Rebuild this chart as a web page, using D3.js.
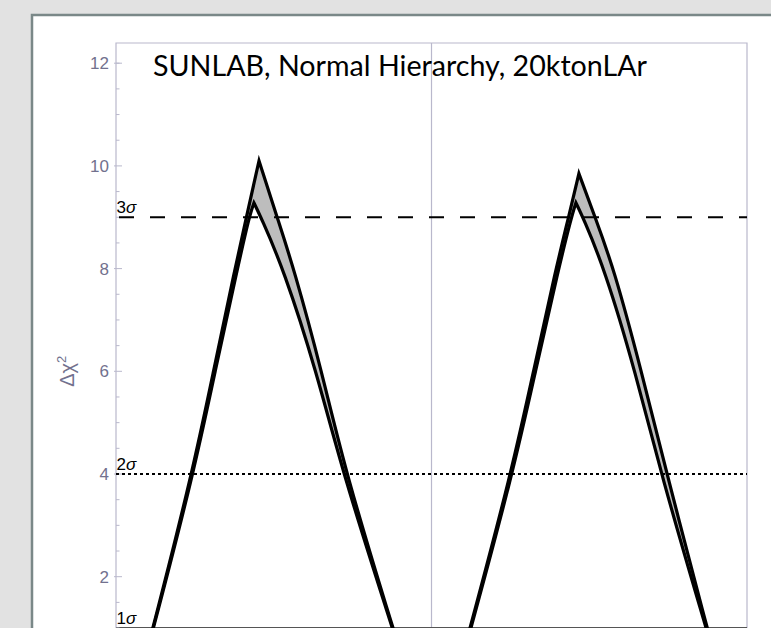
<!DOCTYPE html>
<html>

<head>
  <script src="https://d3js.org/d3.v7.min.js"></script>
  <style>
    body {
      margin: 0;
      background: #e2e2e2;
    }

    .curve {
      fill: none;
      stroke: black;
      stroke-width: 3.2;
      stroke-linejoin: miter;
      stroke-miterlimit: 12;
    }
  </style>
</head>

<body>
  <script>
    const width = 771;
    const height = 628;

    // delta_CP (deg), delta chi^2 -- two bands, outer and inner curve each
    const leftOuter = [[-162.9, 0.5], [-158.9, 1], [-136.6, 4], [-124.4, 6], [-112.1, 8], [-105.6, 9], [-98.4, 10.1],
      [-88.1, 9], [-78.5, 8], [-62.6, 6], [-48.8, 4], [-22.0, 1], [-17.4, 0.5]];
    const leftInner = [[-162.6, 0.5], [-158.6, 1], [-135.8, 4], [-123.5, 6], [-110.7, 8], [-104.1, 9], [-101.3, 9.28],
      [-97.3, 9], [-84.5, 8], [-65.6, 6], [-50.5, 4], [-22.3, 1], [-17.7, 0.5]];
    const rightOuter = [[18.0, 0.5], [22.0, 1], [45.4, 4], [58.2, 6], [71.0, 8], [78.2, 9], [84.1, 9.85],
      [93.3, 9], [104.1, 8], [119.8, 6], [134.3, 4], [157.2, 1], [161.5, 0.5]];
    const rightInner = [[18.5, 0.5], [22.5, 1], [46.3, 4], [59.3, 6], [72.5, 8], [79.8, 9], [82.4, 9.28],
      [86.4, 9], [98.7, 8], [116.3, 6], [130.9, 4], [156.6, 1], [161.0, 0.5]];

    const sigmaLevels = [1, 4, 9];
    const sigmaNames = ["1", "2", "3"];
    const yMajorTicks = [2, 4, 6, 8, 10, 12];
    const yMinorTicks = [1, 1.5, 2.5, 3, 3.5, 4.5, 5, 5.5, 6.5, 7, 7.5, 8.5, 9, 9.5, 10.5, 11, 11.5, 12];
    const title = "SUNLAB, Normal Hierarchy, 20ktonLAr";

    const svg = d3.select("body")
      .append("svg")
      .attr("width", width)
      .attr("height", height)
      .style("display", "block");

    // window background + white panel
    svg.append("rect").attr("width", width).attr("height", height).attr("fill", "#e2e2e2");
    svg.append("rect").attr("x", 32).attr("y", 15).attr("width", width).attr("height", height).attr("fill", "white");
    svg.append("path")
      .attr("d", `M32,${height} V15 H${width}`)
      .attr("fill", "none")
      .attr("stroke", "#7a8888")
      .attr("stroke-width", 2.5);

    const plotLeft = 116, plotRight = 747, plotTop = 43;

    const x = d3.scaleLinear().domain([-180, 180]).range([plotLeft, plotRight]);
    const y = d3.scaleLinear().domain([4, 12]).range([474, 63.2]);

    // each peak = two smooth branches joined at a sharp tip
    const branch = d3.line().x(d => x(d[0])).y(d => y(d[1])).curve(d3.curveBasis);

    function peakPath(pts) {
      let k = d3.maxIndex(pts, d => d[1]);
      let a = branch(pts.slice(0, k + 1));
      let b = branch(pts.slice(k));
      return a + b.replace(/^M[^A-Za-z]*/, "");
    }

    function closedPath(pts) {
      return peakPath(pts) + `L${x(pts[pts.length - 1][0])},${height + 40}L${x(pts[0][0])},${height + 40}Z`;
    }

    // gray band between curves: outer filled gray, inner filled white
    [[leftOuter, leftInner], [rightOuter, rightInner]].forEach(function (pair) {
      svg.append("path").attr("d", closedPath(pair[0])).attr("fill", "#bdbdbd");
      svg.append("path").attr("d", closedPath(pair[1])).attr("fill", "white");
    });

    // frame and axis
    const frameColor = "#b9b8cc";
    svg.append("path")
      .attr("d", `M${plotLeft},${height} V${plotTop} H${plotRight} V${height}`)
      .attr("fill", "none")
      .attr("stroke", frameColor)
      .attr("stroke-width", 1.2);
    svg.append("line")
      .attr("x1", x(0)).attr("x2", x(0))
      .attr("y1", plotTop).attr("y2", height)
      .attr("stroke", frameColor)
      .attr("stroke-width", 1.2);
    svg.append("line")
      .attr("x1", plotLeft).attr("x2", plotRight)
      .attr("y1", height - 0.5).attr("y2", height - 0.5)
      .attr("stroke", "#555")
      .attr("stroke-width", 1);

    svg.selectAll(".minor")
      .data(yMinorTicks)
      .enter()
      .append("line")
      .attr("x1", plotLeft).attr("x2", plotLeft + 3.5)
      .attr("y1", d => y(d)).attr("y2", d => y(d))
      .attr("stroke", frameColor);

    svg.selectAll(".major")
      .data(yMajorTicks)
      .enter()
      .append("line")
      .attr("x1", plotLeft - 2).attr("x2", plotLeft + 6)
      .attr("y1", d => y(d)).attr("y2", d => y(d))
      .attr("stroke", frameColor);

    svg.selectAll(".ylab")
      .data(yMajorTicks)
      .enter()
      .append("text")
      .attr("x", plotLeft - 7)
      .attr("y", d => y(d))
      .attr("dy", "0.36em")
      .attr("text-anchor", "end")
      .attr("font-family", "Liberation Sans, Arial, sans-serif")
      .attr("font-size", 17)
      .attr("fill", "#72718e")
      .text(d => d);

    const ylabel = svg.append("text")
      .attr("transform", `translate(74,${y(6)}) rotate(-90)`)
      .attr("text-anchor", "middle")
      .attr("font-family", "Liberation Sans, Arial, sans-serif")
      .attr("font-size", 20)
      .attr("fill", "#72718e");
    ylabel.append("tspan").text("\u0394\u03c7");
    ylabel.append("tspan").attr("dy", -8).attr("font-size", 13).text("2");

    // significance lines
    svg.append("line")
      .attr("x1", plotLeft).attr("x2", plotRight)
      .attr("y1", y(9)).attr("y2", y(9))
      .attr("stroke", "black")
      .attr("stroke-width", 2)
      .attr("stroke-dasharray", "15,16")
      .attr("stroke-dashoffset", -3);
    svg.append("line")
      .attr("x1", plotLeft).attr("x2", plotRight)
      .attr("y1", y(4)).attr("y2", y(4))
      .attr("stroke", "black")
      .attr("stroke-width", 2)
      .attr("stroke-dasharray", "3,3");

    sigmaLevels.forEach(function (v, i) {
      const t = svg.append("text")
        .attr("x", plotLeft + 0.5)
        .attr("y", y(v) - 4.5)
        .attr("font-family", "Liberation Sans, Arial, sans-serif")
        .attr("font-size", 17)
        .attr("fill", "black");
      t.append("tspan").text(sigmaNames[i]);
      t.append("tspan").attr("font-style", "italic").text("\u03c3");
    });

    // curves
    [leftOuter, leftInner, rightOuter, rightInner].forEach(function (pts) {
      svg.append("path").attr("class", "curve").attr("d", peakPath(pts));
    });

    svg.append("text")
      .attr("x", 153)
      .attr("y", 76)
      .attr("font-family", "Lato, Open Sans, sans-serif")
      .attr("font-size", 28)
      .attr("textLength", 494)
      .attr("lengthAdjust", "spacingAndGlyphs")
      .attr("fill", "black")
      .text(title);
  </script>
</body>

</html>
